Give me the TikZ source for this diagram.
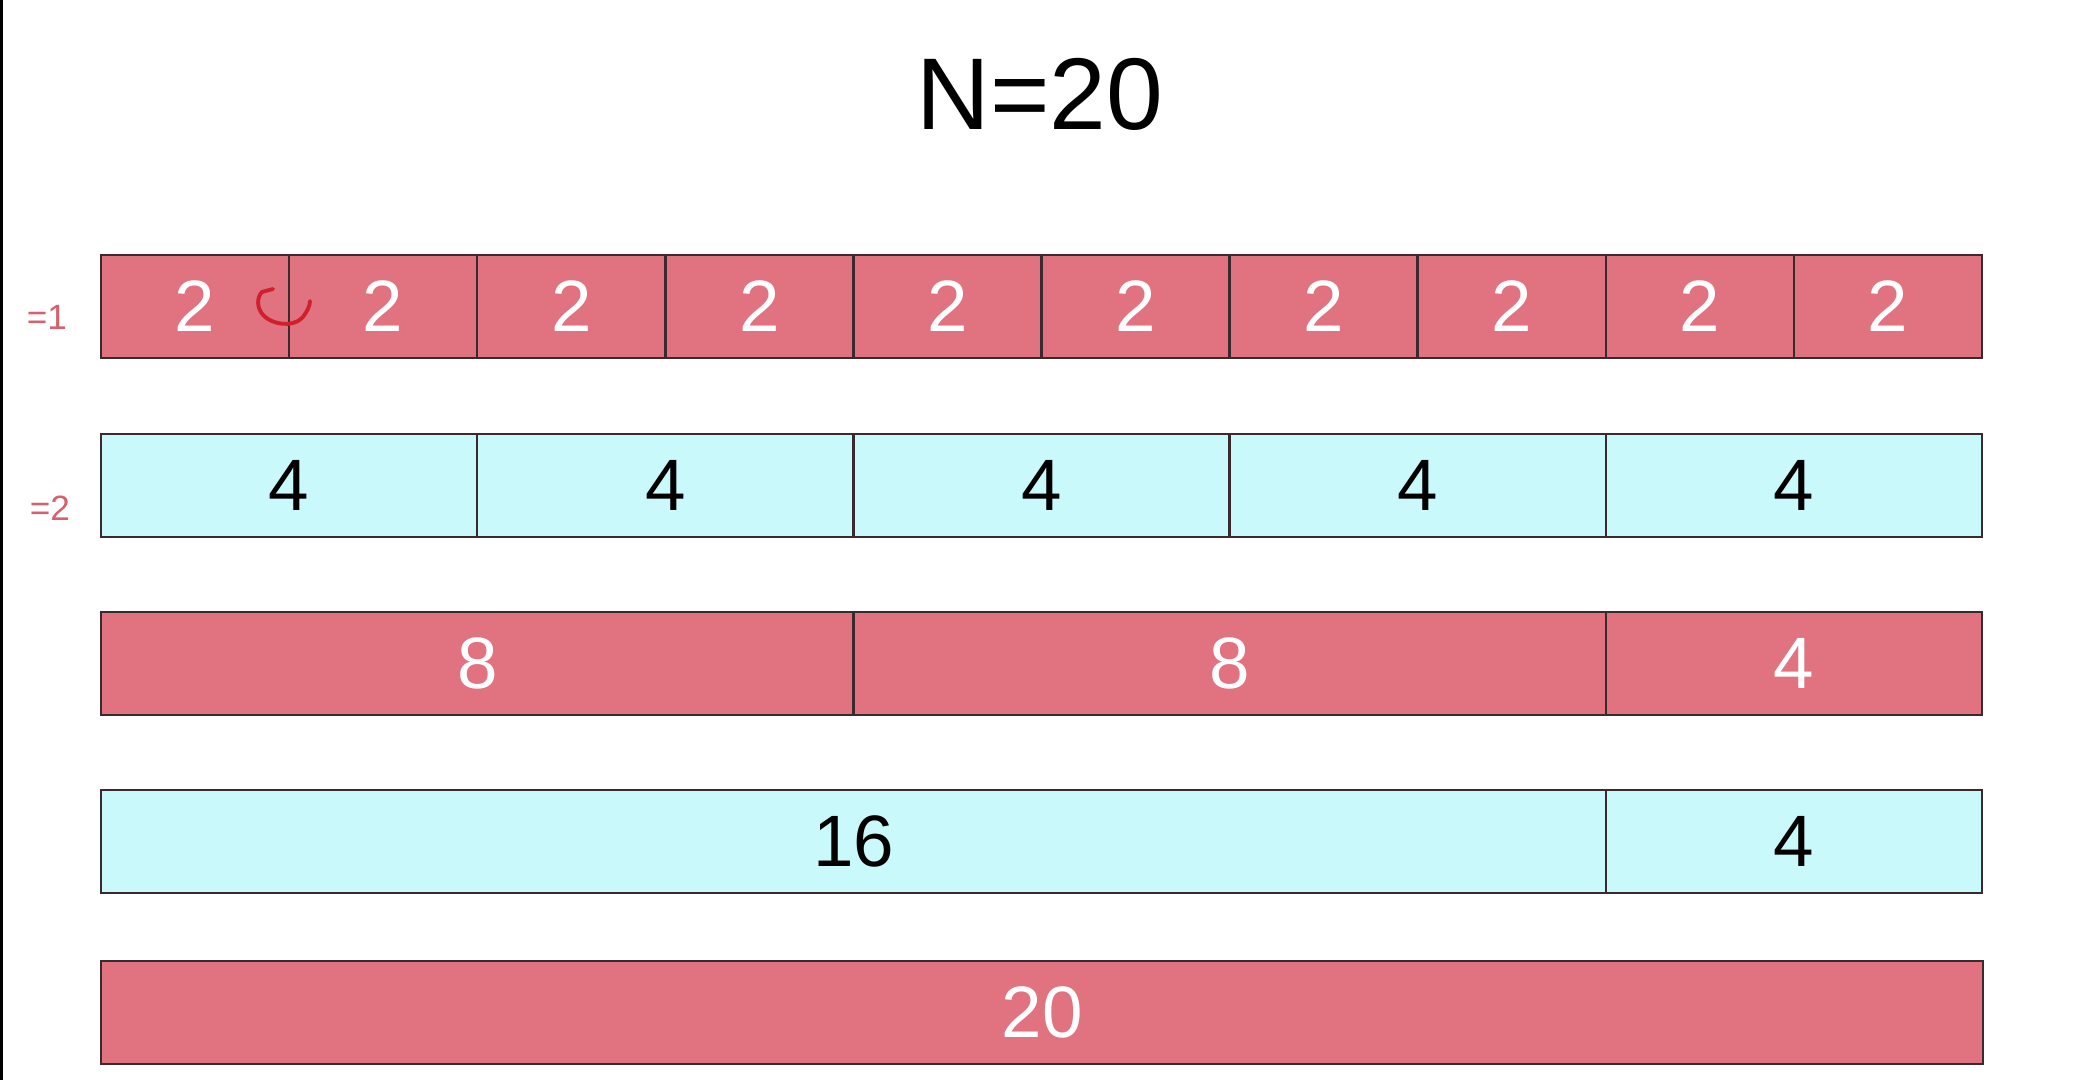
\documentclass[tikz,border=0pt]{standalone}
\usepackage{fontspec}
\setmainfont{Liberation Sans}
\definecolor{cellred}{HTML}{E0737F}
\definecolor{cellcyan}{HTML}{C9F9FB}
\definecolor{cellline}{HTML}{3A2A2E}
\definecolor{inkpink}{HTML}{D8606E}
\definecolor{inkred}{HTML}{D0202E}
\tikzset{
  cellbase/.style={rectangle, draw=cellline, line width=0.7pt, inner sep=0pt, outer sep=0pt,
    anchor=north west, minimum height=1.03cm, font=\fontsize{20.7}{24}\selectfont},
  redcell/.style={cellbase, fill=cellred, text=white},
  cyancell/.style={cellbase, fill=cellcyan, text=black},
  annot/.style={text=inkpink, font=\fontsize{10}{12}\selectfont},
}
\begin{document}
\begin{tikzpicture}[x=0.01cm,y=-0.01cm]
\useasboundingbox (0,0) rectangle (2076,1080);
\fill[white] (0,0) rectangle (2076,1080);
\fill[black] (0,0) rectangle (3,1080);
\node[font=\fontsize{29}{34}\selectfont] (title) at (1040,94) {N=20};
% row 1
\foreach \i in {0,...,9} {
  \node[redcell, minimum width=1.881cm] (ra\i) at (101+188.1*\i,255) {2};
}
% row 2
\foreach \i in {0,...,4} {
  \node[cyancell, minimum width=3.762cm] (rb\i) at (101+376.2*\i,434) {4};
}
% row 3
\node[redcell, minimum width=7.524cm] (rc0) at (101,612) {8};
\node[redcell, minimum width=7.524cm] (rc1) at (853.4,612) {8};
\node[redcell, minimum width=3.762cm] (rc2) at (1605.8,612) {4};
% row 4
\node[cyancell, minimum width=15.048cm] (rd0) at (101,790) {16};
\node[cyancell, minimum width=3.762cm] (rd1) at (1605.8,790) {4};
% row 5
\node[redcell, minimum width=18.81cm] (re0) at (101,961) {20};
% annotations
\node[annot] (la) at (47,317) {=1};
\node[annot] (lb) at (50,508) {=2};
\draw[inkred, line width=1.1pt, line cap=round, line join=round]
  (273,289) -- (262,292)
  .. controls (257,297) and (256,308) .. (264,316)
  .. controls (272,324) and (292,328) .. (302,318)
  .. controls (307,312) and (310,306) .. (310,301);
\end{tikzpicture}
\end{document}
